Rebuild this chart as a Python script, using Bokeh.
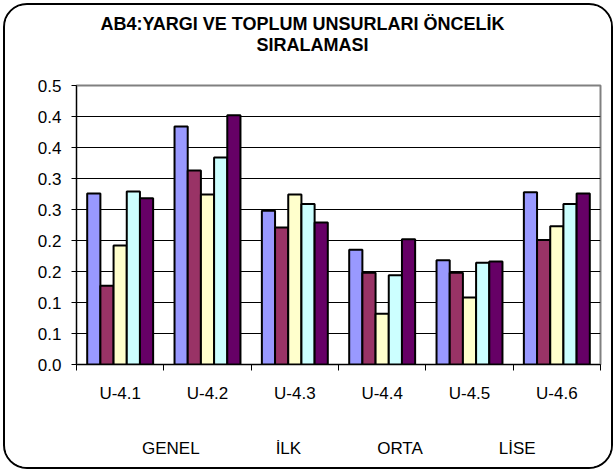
from bokeh.plotting import figure
from bokeh.layouts import column
from bokeh.models import (ColumnDataSource, FixedTicker, LinearAxis, Range1d,
                          Legend, LegendItem, Title, Grid)
from bokeh.transform import dodge
from bokeh.embed import file_html
from bokeh.resources import INLINE

# ---- data ----
categories = ["U-4.1", "U-4.2", "U-4.3", "U-4.4", "U-4.5", "U-4.6"]
series_names = ["GENEL", "İLK", "ORTA", "LİSE", "ÜNİV"]
genel = [0.276, 0.384, 0.248, 0.185, 0.168, 0.278]
ilk   = [0.127, 0.313, 0.221, 0.148, 0.148, 0.201]
orta  = [0.192, 0.274, 0.274, 0.082, 0.108, 0.223]
lise  = [0.279, 0.334, 0.259, 0.144, 0.164, 0.259]
univ  = [0.268, 0.402, 0.229, 0.202, 0.166, 0.276]
y_ticks = [0.0, 0.05, 0.1, 0.15, 0.2, 0.25, 0.3, 0.35, 0.4, 0.45]
y_tick_labels = ["0.0", "0.1", "0.1", "0.2", "0.2", "0.3", "0.3", "0.4", "0.4", "0.5"]
title_line1 = "AB4:YARGI VE TOPLUM UNSURLARI ÖNCELİK"
title_line2 = "SIRALAMASI"

colors = ["#9999FF", "#993366", "#FFFFCC", "#CCFFFF", "#660066"]
FONT = "Liberation Sans"

n = len(categories)
centers = [i + 0.5 for i in range(n)]
boundaries = [float(i) for i in range(n + 1)]

source = ColumnDataSource(dict(x=centers, GENEL=genel, ILK=ilk, ORTA=orta,
                               LISE=lise, UNIV=univ))
cols = ["GENEL", "ILK", "ORTA", "LISE", "UNIV"]

# ---- main chart ----
p = figure(width=606, height=402, output_backend="svg", toolbar_location=None,
           x_range=Range1d(0, n), y_range=Range1d(y_ticks[0], y_ticks[-1]),
           x_axis_type=None, y_axis_type=None,
           min_border_left=71, min_border_right=11, min_border_top=80,
           min_border_bottom=43)
p.background_fill_color = "white"
p.border_fill_color = "white"
p.outline_line_color = "#808080"
p.outline_line_width = 2

bw = 0.151
for k, (c, col) in enumerate(zip(cols, colors)):
    p.vbar(x=dodge("x", (k - 2) * bw, range=p.x_range), top=c, width=bw,
           bottom=0, source=source, fill_color=col, line_color="black",
           line_width=2)

# y axis
yax = LinearAxis(ticker=FixedTicker(ticks=y_ticks, minor_ticks=[]))
yax.major_label_overrides = {t: l for t, l in zip(y_ticks, y_tick_labels)}
yax.major_tick_out = 5
yax.major_tick_in = 0
yax.major_tick_line_color = "black"
yax.axis_line_color = "black"
yax.major_label_text_font = FONT
yax.major_label_text_font_size = "17px"
yax.major_label_text_color = "black"
yax.major_label_standoff = 10
p.add_layout(yax, "left")

# x axis
xax = LinearAxis(ticker=FixedTicker(ticks=centers, minor_ticks=boundaries))
xax.major_label_overrides = {c: l for c, l in zip(centers, categories)}
xax.major_tick_out = 0
xax.major_tick_in = 0
xax.major_tick_line_color = None
xax.minor_tick_out = 6
xax.minor_tick_in = 0
xax.minor_tick_line_color = "black"
xax.axis_line_color = "black"
xax.major_label_text_font = FONT
xax.major_label_text_font_size = "17px"
xax.major_label_text_color = "black"
xax.major_label_standoff = 13
p.add_layout(xax, "below")

# grid
p.ygrid.visible = False
p.xgrid.visible = False
grid = Grid(dimension=1, ticker=FixedTicker(ticks=y_ticks[1:]),
            grid_line_color="black", grid_line_width=1)
p.add_layout(grid)

# titles (first added is closest to the plot)
t2 = Title(text=title_line2 + "\n", align="left", offset=180, standoff=4,
           text_line_height=1.45,
           text_font=FONT, text_font_style="bold", text_font_size="18px",
           text_color="black")
t1 = Title(text=title_line1, align="left", offset=24, standoff=-6,
           text_font=FONT, text_font_style="bold", text_font_size="18px",
           text_color="black")
p.add_layout(t2, "above")
p.add_layout(t1, "above")

# ---- legend strip ----
q = figure(width=606, height=60, output_backend="svg", toolbar_location=None,
           x_range=Range1d(0, 1), y_range=Range1d(0, 1),
           x_axis_type=None, y_axis_type=None,
           min_border_left=0, min_border_right=0, min_border_top=0,
           min_border_bottom=0)
q.outline_line_color = None
q.background_fill_color = "white"
q.border_fill_color = "white"
q.xgrid.visible = False
q.ygrid.visible = False

empty = ColumnDataSource(dict(x=[], top=[]))
leg_renderers = [q.vbar(x="x", top="top", width=0.1, source=empty,
                        fill_color=col, line_color="black", line_width=2)
                 for col in colors]
items = [LegendItem(label=nm, renderers=[r])
         for nm, r in zip(series_names, leg_renderers)]
legend = Legend(items=items, orientation="horizontal", location=(50, 8),
                margin=0, padding=0, spacing=60, glyph_width=9,
                glyph_height=9, label_standoff=7, border_line_color=None,
                background_fill_alpha=0, label_text_font=FONT,
                label_text_font_size="17px", label_text_color="black")
q.add_layout(legend, "center")

layout = column(p, q, spacing=0,
                styles={"border": "2px solid black", "border-radius": "24px",
                        "margin": "3px 0 0 3px", "overflow": "hidden",
                        "background-color": "white"})

open("out.html", "w").write(file_html(layout, INLINE))
